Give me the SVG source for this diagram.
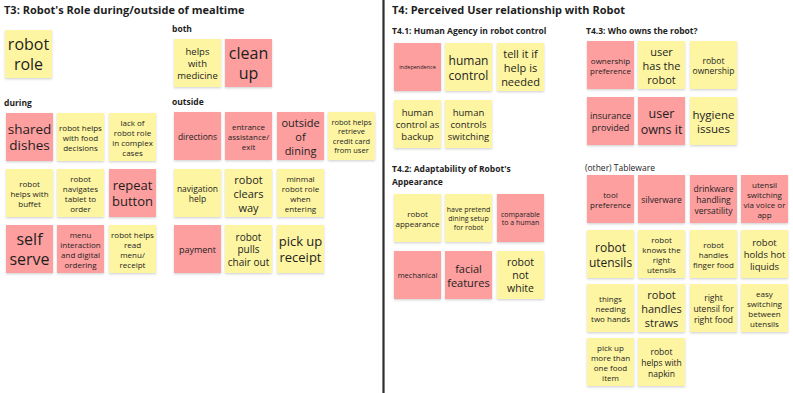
<svg xmlns="http://www.w3.org/2000/svg" width="793" height="393" viewBox="0 0 793 393">
<defs>
<filter id="sh" x="-20%" y="-20%" width="140%" height="150%">
<feDropShadow dx="0" dy="1.2" stdDeviation="1" flood-color="#000" flood-opacity="0.18"/>
</filter>
<style>
.y{fill:#fdf5a2;filter:url(#sh)}
.p{fill:#fd9f9f;filter:url(#sh)}
text{font-family:"Open Sans","Noto Sans","Liberation Sans",sans-serif;fill:#1e1e1e}
.s text{text-anchor:middle;dominant-baseline:central}
.h1{font-size:11px;font-weight:bold}
.h2{font-size:8.5px;font-weight:bold}
.h3{font-size:8.5px}
</style>
</defs>
<rect width="793" height="393" fill="#ffffff"/>
<g id="divider"><line x1="383.5" y1="0" x2="383.5" y2="393" stroke="#2e2e2e" stroke-width="2.2"/></g>
<g id="labels">
<text class="h1" x="4" y="13.5">T3: Robot's Role during/outside of mealtime</text>
<text class="h2" x="172" y="32">both</text>
<text class="h2" x="4" y="106">during</text>
<text class="h2" x="172" y="105">outside</text>
<text class="h1" x="392" y="13.5">T4: Perceived User relationship with Robot</text>
<text class="h2" x="392" y="33.5">T4.1: Human Agency in robot control</text>
<text class="h2" x="392" y="172">T4.2: Adaptability of Robot's</text>
<text class="h2" x="392" y="184.5">Appearance</text>
<text class="h2" x="586" y="33.5">T4.3: Who owns the robot?</text>
<text class="h3" x="585" y="170.5">(other) Tableware</text>
</g>
<g id="connectors"></g>

<g id="n-robot-role" class="s"><rect class="y" x="5" y="30" width="47" height="48"/><text x="28.5" y="54" font-size="16"><tspan x="28.5" dy="-0.625em">robot</tspan><tspan x="28.5" dy="1.25em">role</tspan></text></g>
<g id="n-helps-medicine" class="s"><rect class="y" x="174" y="39" width="47" height="48"/><text x="197.5" y="63" font-size="9.5"><tspan x="197.5" dy="-1.25em">helps</tspan><tspan x="197.5" dy="1.25em">with</tspan><tspan x="197.5" dy="1.25em">medicine</tspan></text></g>
<g id="n-clean-up" class="s"><rect class="p" x="225" y="39" width="47" height="48"/><text x="248.5" y="63" font-size="16"><tspan x="248.5" dy="-0.625em">clean</tspan><tspan x="248.5" dy="1.25em">up</tspan></text></g>

<g id="n-shared-dishes" class="s"><rect class="p" x="6" y="113" width="47" height="48"/><text x="29.5" y="137" font-size="13.5"><tspan x="29.5" dy="-0.625em">shared</tspan><tspan x="29.5" dy="1.25em">dishes</tspan></text></g>
<g id="n-food-decisions" class="s"><rect class="y" x="57" y="113" width="47" height="48"/><text x="80.5" y="137" font-size="8"><tspan x="80.5" dy="-1.25em">robot helps</tspan><tspan x="80.5" dy="1.25em">with food</tspan><tspan x="80.5" dy="1.25em">decisions</tspan></text></g>
<g id="n-lack-role" class="s"><rect class="y" x="109" y="113" width="47" height="48"/><text x="132.5" y="137" font-size="8"><tspan x="132.5" dy="-1.875em">lack of</tspan><tspan x="132.5" dy="1.25em">robot role</tspan><tspan x="132.5" dy="1.25em">in complex</tspan><tspan x="132.5" dy="1.25em">cases</tspan></text></g>
<g id="n-buffet" class="s"><rect class="y" x="6" y="169" width="47" height="48"/><text x="29.5" y="193" font-size="8"><tspan x="29.5" dy="-1.25em">robot</tspan><tspan x="29.5" dy="1.25em">helps with</tspan><tspan x="29.5" dy="1.25em">buffet</tspan></text></g>
<g id="n-tablet" class="s"><rect class="y" x="57" y="169" width="47" height="48"/><text x="80.5" y="193" font-size="8"><tspan x="80.5" dy="-1.875em">robot</tspan><tspan x="80.5" dy="1.25em">navigates</tspan><tspan x="80.5" dy="1.25em">tablet to</tspan><tspan x="80.5" dy="1.25em">order</tspan></text></g>
<g id="n-repeat" class="s"><rect class="p" x="109" y="169" width="47" height="48"/><text x="132.5" y="193" font-size="13"><tspan x="132.5" dy="-0.625em">repeat</tspan><tspan x="132.5" dy="1.25em">button</tspan></text></g>
<g id="n-self-serve" class="s"><rect class="p" x="6" y="225" width="47" height="48"/><text x="29.5" y="249" font-size="16"><tspan x="29.5" dy="-0.625em">self</tspan><tspan x="29.5" dy="1.25em">serve</tspan></text></g>
<g id="n-menu" class="s"><rect class="p" x="57" y="225" width="47" height="48"/><text x="80.5" y="249" font-size="8"><tspan x="80.5" dy="-1.875em">menu</tspan><tspan x="80.5" dy="1.25em">interaction</tspan><tspan x="80.5" dy="1.25em">and digital</tspan><tspan x="80.5" dy="1.25em">ordering</tspan></text></g>
<g id="n-read-menu" class="s"><rect class="y" x="109" y="225" width="47" height="48"/><text x="132.5" y="249" font-size="8"><tspan x="132.5" dy="-1.875em">robot helps</tspan><tspan x="132.5" dy="1.25em">read</tspan><tspan x="132.5" dy="1.25em">menu/</tspan><tspan x="132.5" dy="1.25em">receipt</tspan></text></g>

<g id="n-directions" class="s"><rect class="p" x="174" y="112" width="47" height="48"/><text x="197.5" y="136" font-size="8.5">directions</text></g>
<g id="n-entrance" class="s"><rect class="p" x="225" y="112" width="47" height="48"/><text x="248.5" y="136" font-size="8"><tspan x="248.5" dy="-1.25em">entrance</tspan><tspan x="248.5" dy="1.25em">assistance/</tspan><tspan x="248.5" dy="1.25em">exit</tspan></text></g>
<g id="n-outside-dining" class="s"><rect class="p" x="277" y="112" width="47" height="48"/><text x="300.5" y="136" font-size="11"><tspan x="300.5" dy="-1.25em">outside</tspan><tspan x="300.5" dy="1.25em">of</tspan><tspan x="300.5" dy="1.25em">dining</tspan></text></g>
<g id="n-credit-card" class="s"><rect class="y" x="328" y="112" width="47" height="48"/><text x="351.5" y="136" font-size="7.5"><tspan x="351.5" dy="-1.875em">robot helps</tspan><tspan x="351.5" dy="1.25em">retrieve</tspan><tspan x="351.5" dy="1.25em">credit card</tspan><tspan x="351.5" dy="1.25em">from user</tspan></text></g>
<g id="n-navigation" class="s"><rect class="y" x="174" y="169" width="47" height="48"/><text x="197.5" y="193" font-size="8.5"><tspan x="197.5" dy="-0.625em">navigation</tspan><tspan x="197.5" dy="1.25em">help</tspan></text></g>
<g id="n-clears-way" class="s"><rect class="y" x="225" y="169" width="47" height="48"/><text x="248.5" y="193" font-size="11"><tspan x="248.5" dy="-1.25em">robot</tspan><tspan x="248.5" dy="1.25em">clears</tspan><tspan x="248.5" dy="1.25em">way</tspan></text></g>
<g id="n-minimal" class="s"><rect class="y" x="277" y="169" width="47" height="48"/><text x="300.5" y="193" font-size="8"><tspan x="300.5" dy="-1.875em">minmal</tspan><tspan x="300.5" dy="1.25em">robot role</tspan><tspan x="300.5" dy="1.25em">when</tspan><tspan x="300.5" dy="1.25em">entering</tspan></text></g>
<g id="n-payment" class="s"><rect class="p" x="174" y="225" width="47" height="48"/><text x="197.5" y="249" font-size="9">payment</text></g>
<g id="n-chair" class="s"><rect class="y" x="225" y="225" width="47" height="48"/><text x="248.5" y="249" font-size="10"><tspan x="248.5" dy="-1.25em">robot</tspan><tspan x="248.5" dy="1.25em">pulls</tspan><tspan x="248.5" dy="1.25em">chair out</tspan></text></g>
<g id="n-receipt" class="s"><rect class="y" x="277" y="225" width="47" height="48"/><text x="300.5" y="249" font-size="13"><tspan x="300.5" dy="-0.625em">pick up</tspan><tspan x="300.5" dy="1.25em">receipt</tspan></text></g>

<g id="n-independence" class="s"><rect class="p" x="394" y="43" width="47" height="48"/><text x="417.5" y="67" font-size="5.5">independence</text></g>
<g id="n-human-control" class="s"><rect class="y" x="445" y="43" width="47" height="48"/><text x="468.5" y="67" font-size="12"><tspan x="468.5" dy="-0.625em">human</tspan><tspan x="468.5" dy="1.25em">control</tspan></text></g>
<g id="n-tell-it" class="s"><rect class="y" x="497" y="43" width="47" height="48"/><text x="520.5" y="67" font-size="11"><tspan x="520.5" dy="-1.25em">tell it if</tspan><tspan x="520.5" dy="1.25em">help is</tspan><tspan x="520.5" dy="1.25em">needed</tspan></text></g>
<g id="n-backup" class="s"><rect class="y" x="394" y="100" width="47" height="48"/><text x="417.5" y="124" font-size="9.5"><tspan x="417.5" dy="-1.25em">human</tspan><tspan x="417.5" dy="1.25em">control as</tspan><tspan x="417.5" dy="1.25em">backup</tspan></text></g>
<g id="n-switching" class="s"><rect class="y" x="445" y="100" width="47" height="48"/><text x="468.5" y="124" font-size="9.5"><tspan x="468.5" dy="-1.25em">human</tspan><tspan x="468.5" dy="1.25em">controls</tspan><tspan x="468.5" dy="1.25em">switching</tspan></text></g>

<g id="n-appearance" class="s"><rect class="y" x="394" y="194" width="47" height="48"/><text x="417.5" y="218" font-size="8"><tspan x="417.5" dy="-0.625em">robot</tspan><tspan x="417.5" dy="1.25em">appearance</tspan></text></g>
<g id="n-pretend" class="s"><rect class="y" x="445" y="194" width="47" height="48"/><text x="468.5" y="218" font-size="7"><tspan x="468.5" dy="-1.25em">have pretend</tspan><tspan x="468.5" dy="1.25em">dining setup</tspan><tspan x="468.5" dy="1.25em">for robot</tspan></text></g>
<g id="n-comparable" class="s"><rect class="p" x="497" y="194" width="47" height="48"/><text x="520.5" y="218" font-size="7"><tspan x="520.5" dy="-0.625em">comparable</tspan><tspan x="520.5" dy="1.25em">to a human</tspan></text></g>
<g id="n-mechanical" class="s"><rect class="p" x="394" y="251" width="47" height="48"/><text x="417.5" y="275" font-size="7.5">mechanical</text></g>
<g id="n-facial" class="s"><rect class="p" x="445" y="251" width="47" height="48"/><text x="468.5" y="275" font-size="11"><tspan x="468.5" dy="-0.625em">facial</tspan><tspan x="468.5" dy="1.25em">features</tspan></text></g>
<g id="n-not-white" class="s"><rect class="y" x="497" y="251" width="47" height="48"/><text x="520.5" y="275" font-size="10.5"><tspan x="520.5" dy="-1.25em">robot</tspan><tspan x="520.5" dy="1.25em">not</tspan><tspan x="520.5" dy="1.25em">white</tspan></text></g>

<g id="n-ownership-pref" class="s"><rect class="p" x="587" y="41" width="47" height="48"/><text x="610.5" y="65" font-size="8"><tspan x="610.5" dy="-0.625em">ownership</tspan><tspan x="610.5" dy="1.25em">preference</tspan></text></g>
<g id="n-user-has" class="s"><rect class="y" x="638" y="41" width="47" height="48"/><text x="661.5" y="65" font-size="11"><tspan x="661.5" dy="-1.25em">user</tspan><tspan x="661.5" dy="1.25em">has the</tspan><tspan x="661.5" dy="1.25em">robot</tspan></text></g>
<g id="n-robot-ownership" class="s"><rect class="y" x="690" y="41" width="47" height="48"/><text x="713.5" y="65" font-size="8.5"><tspan x="713.5" dy="-0.625em">robot</tspan><tspan x="713.5" dy="1.25em">ownership</tspan></text></g>
<g id="n-insurance" class="s"><rect class="p" x="587" y="97" width="47" height="48"/><text x="610.5" y="121" font-size="9"><tspan x="610.5" dy="-0.625em">insurance</tspan><tspan x="610.5" dy="1.25em">provided</tspan></text></g>
<g id="n-user-owns" class="s"><rect class="p" x="638" y="97" width="47" height="48"/><text x="661.5" y="121" font-size="12.5"><tspan x="661.5" dy="-0.625em">user</tspan><tspan x="661.5" dy="1.25em">owns it</tspan></text></g>
<g id="n-hygiene" class="s"><rect class="y" x="690" y="97" width="47" height="48"/><text x="713.5" y="121" font-size="11.5"><tspan x="713.5" dy="-0.625em">hygiene</tspan><tspan x="713.5" dy="1.25em">issues</tspan></text></g>

<g id="n-tool-pref" class="s"><rect class="p" x="587" y="175" width="47" height="48"/><text x="610.5" y="199" font-size="8"><tspan x="610.5" dy="-0.625em">tool</tspan><tspan x="610.5" dy="1.25em">preference</tspan></text></g>
<g id="n-silverware" class="s"><rect class="p" x="638" y="175" width="47" height="48"/><text x="661.5" y="199" font-size="8.5">silverware</text></g>
<g id="n-drinkware" class="s"><rect class="p" x="690" y="175" width="47" height="48"/><text x="713.5" y="199" font-size="8.5"><tspan x="713.5" dy="-1.25em">drinkware</tspan><tspan x="713.5" dy="1.25em">handling</tspan><tspan x="713.5" dy="1.25em">versatility</tspan></text></g>
<g id="n-utensil-voice" class="s"><rect class="p" x="741" y="175" width="47" height="48"/><text x="764.5" y="199" font-size="8"><tspan x="764.5" dy="-1.875em">utensil</tspan><tspan x="764.5" dy="1.25em">switching</tspan><tspan x="764.5" dy="1.25em">via voice or</tspan><tspan x="764.5" dy="1.25em">app</tspan></text></g>
<g id="n-robot-utensils" class="s"><rect class="y" x="587" y="230" width="47" height="48"/><text x="610.5" y="254" font-size="12"><tspan x="610.5" dy="-0.625em">robot</tspan><tspan x="610.5" dy="1.25em">utensils</tspan></text></g>
<g id="n-knows-utensils" class="s"><rect class="y" x="638" y="230" width="47" height="48"/><text x="661.5" y="254" font-size="8"><tspan x="661.5" dy="-1.875em">robot</tspan><tspan x="661.5" dy="1.25em">knows the</tspan><tspan x="661.5" dy="1.25em">right</tspan><tspan x="661.5" dy="1.25em">utensils</tspan></text></g>
<g id="n-finger-food" class="s"><rect class="y" x="690" y="230" width="47" height="48"/><text x="713.5" y="254" font-size="8"><tspan x="713.5" dy="-1.25em">robot</tspan><tspan x="713.5" dy="1.25em">handles</tspan><tspan x="713.5" dy="1.25em">finger food</tspan></text></g>
<g id="n-hot-liquids" class="s"><rect class="y" x="741" y="230" width="47" height="48"/><text x="764.5" y="254" font-size="9.5"><tspan x="764.5" dy="-1.25em">robot</tspan><tspan x="764.5" dy="1.25em">holds hot</tspan><tspan x="764.5" dy="1.25em">liquids</tspan></text></g>
<g id="n-two-hands" class="s"><rect class="y" x="587" y="284" width="47" height="48"/><text x="610.5" y="308" font-size="8"><tspan x="610.5" dy="-1.25em">things</tspan><tspan x="610.5" dy="1.25em">needing</tspan><tspan x="610.5" dy="1.25em">two hands</tspan></text></g>
<g id="n-straws" class="s"><rect class="y" x="638" y="284" width="47" height="48"/><text x="661.5" y="308" font-size="11"><tspan x="661.5" dy="-1.25em">robot</tspan><tspan x="661.5" dy="1.25em">handles</tspan><tspan x="661.5" dy="1.25em">straws</tspan></text></g>
<g id="n-right-utensil" class="s"><rect class="y" x="690" y="284" width="47" height="48"/><text x="713.5" y="308" font-size="8.5"><tspan x="713.5" dy="-1.25em">right</tspan><tspan x="713.5" dy="1.25em">utensil for</tspan><tspan x="713.5" dy="1.25em">right food</tspan></text></g>
<g id="n-easy-switching" class="s"><rect class="y" x="741" y="284" width="47" height="48"/><text x="764.5" y="308" font-size="8"><tspan x="764.5" dy="-1.875em">easy</tspan><tspan x="764.5" dy="1.25em">switching</tspan><tspan x="764.5" dy="1.25em">between</tspan><tspan x="764.5" dy="1.25em">utensils</tspan></text></g>
<g id="n-pick-up-more" class="s"><rect class="y" x="587" y="338" width="47" height="48"/><text x="610.5" y="362" font-size="8"><tspan x="610.5" dy="-1.875em">pick up</tspan><tspan x="610.5" dy="1.25em">more than</tspan><tspan x="610.5" dy="1.25em">one food</tspan><tspan x="610.5" dy="1.25em">item</tspan></text></g>
<g id="n-napkin" class="s"><rect class="y" x="638" y="338" width="47" height="48"/><text x="661.5" y="362" font-size="8.5"><tspan x="661.5" dy="-1.25em">robot</tspan><tspan x="661.5" dy="1.25em">helps with</tspan><tspan x="661.5" dy="1.25em">napkin</tspan></text></g>
</svg>
